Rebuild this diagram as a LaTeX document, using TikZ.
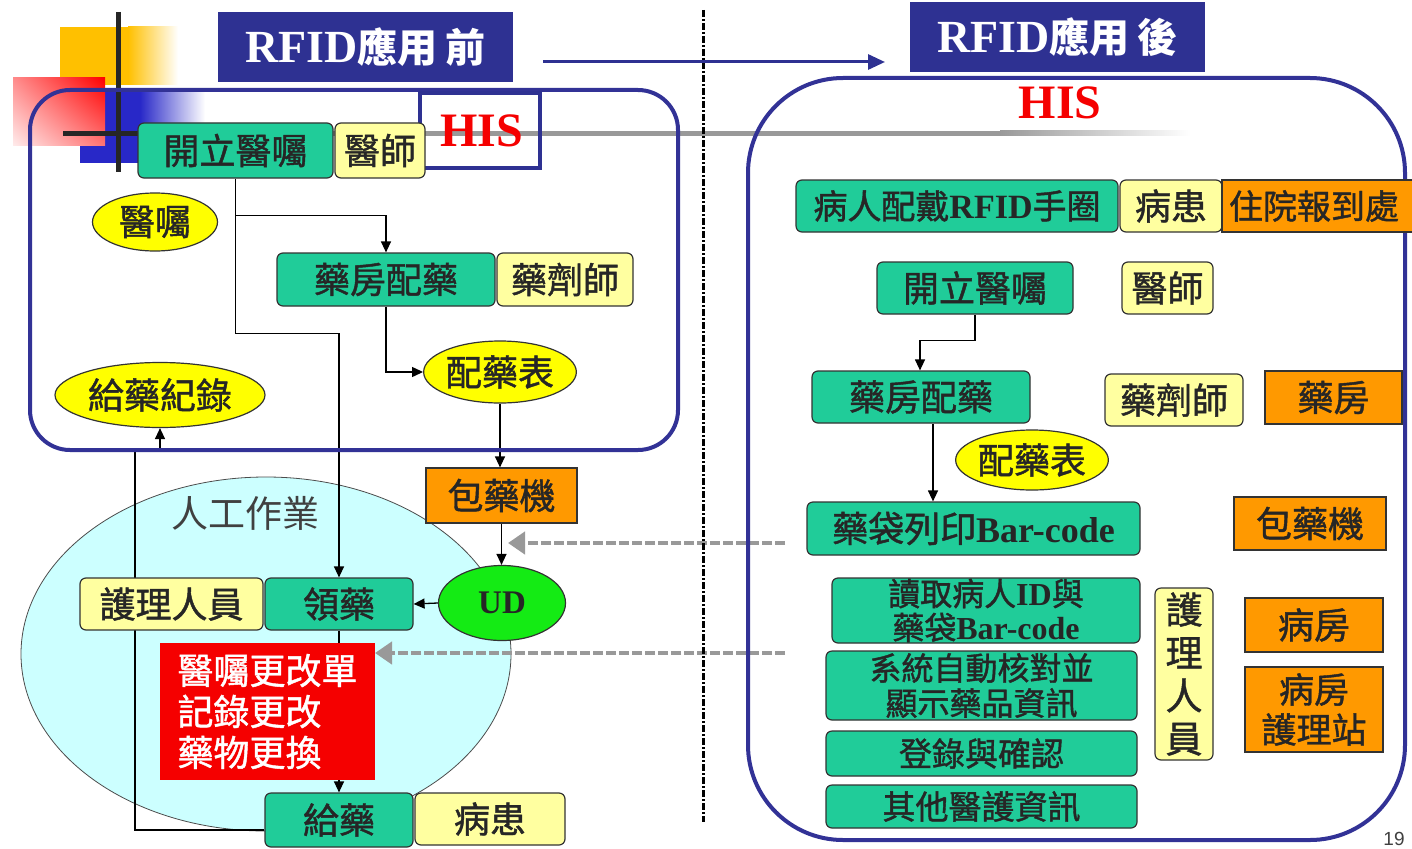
\documentclass[tikz,border=0pt]{standalone}
\usepackage{fontspec}
\setmainfont{Liberation Serif}
\newfontfamily\cjk{Noto Sans CJK TC}[FakeBold=1.2]
\newfontfamily\cjkl{Noto Sans CJK TC}
\newfontfamily\sansf{Liberation Sans}
\usetikzlibrary{arrows.meta,shapes.geometric,shadings}
\definecolor{tblue}{RGB}{46,49,146}
\definecolor{bblue}{RGB}{50,50,150}
\definecolor{tealc}{RGB}{32,204,153}
\definecolor{lyel}{RGB}{255,255,160}
\definecolor{yel}{RGB}{255,255,0}
\definecolor{orng}{RGB}{255,153,0}
\definecolor{cyanc}{RGB}{204,255,255}
\definecolor{udg}{RGB}{20,235,20}
\definecolor{redc}{RGB}{245,0,0}
\definecolor{yelo}{RGB}{255,192,0}
\definecolor{dblue}{RGB}{40,40,200}
\newcommand\latx[1]{{\rmfamily\bfseries #1}}
\pgfdeclarelayer{deco}
\pgfdeclarelayer{conn}
\pgfsetlayers{deco,conn,main}
\tikzset{
 box/.style={draw=black!80, line width=1.2pt, inner sep=0pt, align=center,
   font=\cjk\fontsize{36}{40}\selectfont, text=black!85},
 tbox/.style={box, rounded corners=6pt, fill=tealc},
 ybox/.style={box, rounded corners=6pt, fill=lyel},
 obox/.style={box, fill=orng},
 yell/.style={box, ellipse, fill=yel},
 arr/.style={-{Triangle[length=11pt,width=10pt]}, line width=1.3pt, black},
 garr/.style={-{Triangle[length=17pt,width=22pt]}, line width=4.5pt, black!40, dash pattern=on 10pt off 3pt},
 bigbox/.style={draw=bblue, line width=4pt},
 titlebox/.style={fill=tblue, text=white, inner sep=0pt, minimum width=295, minimum height=70},
 histext/.style={text=redc, font=\rmfamily\bfseries\fontsize{48}{48}\selectfont},
}
\begin{document}
\begin{tikzpicture}[x=1pt,y=-1pt]
\useasboundingbox (0,0) rectangle (1412,848);
\clip (0,0) rectangle (1412,848);
% ---------- decoration ----------
\begin{pgfonlayer}{deco}
 \fill[white] (0,0) rectangle (1412,848);
 \fill[yelo] (60,27) rectangle (128,85);
 \shade[left color=yelo, right color=white] (128,27) rectangle (178,85);
 \fill[dblue] (80,90) rectangle (140,163);
 \shade[left color=dblue, right color=white] (140,90) rectangle (205,163);
 \shade[upper right=red, upper left=red!45, lower left=red!8, lower right=red!55] (13,78) rectangle (105,145);
 \draw[line width=5pt, black!85] (118,12) -- (118,172);
 \draw[line width=5pt, black!85] (63,133) -- (140,133);
 \fill[black!40] (140,130.5) rectangle (1000,135.5);
 \shade[left color=black!40, right color=white] (1000,130.5) rectangle (1190,135.5);
 \node[ellipse, draw=black!70, line width=0.8pt, fill=cyanc, inner sep=0pt,
   minimum width=490, minimum height=354] (manual) at (266,654) {};
 \node[font=\cjkl\fontsize{37}{37}\selectfont, text=black!75] (manualt) at (245,513) {人工作業};
\end{pgfonlayer}

% ---------- big frames and titles ----------
\draw[bigbox, rounded corners=40pt] (30,90) rectangle (678,450);
\draw[bigbox, rounded corners=95pt] (748,78) rectangle (1405,840);
\draw[line width=3pt, black, dash pattern=on 7pt off 2pt on 2pt off 2pt] (703,10) -- (703,822);

\node[titlebox] (titleL) at (365.5,47) {\rmfamily\bfseries\fontsize{46}{46}\selectfont RFID\cjkl\bfseries\fontsize{40}{40}\selectfont 應用\hspace{8pt}前};
\node[titlebox] (titleR) at (1057.5,37) {\rmfamily\bfseries\fontsize{46}{46}\selectfont RFID\cjkl\bfseries\fontsize{40}{40}\selectfont 應用\hspace{8pt}後};
\coordinate (a1) at (543,62);
\coordinate (a2) at (885,62);
\draw[-{Triangle[length=17pt,width=15pt]}, line width=3pt, tblue] (a1) -- (a2);

\node[draw=tblue, line width=4pt, minimum width=120, minimum height=75, inner sep=0pt] (hisL) at (480,130.5) {};
\node[histext] (hisLt) at (482,131) {HIS};
\node[histext] (hisR) at (1060,103) {HIS};

% ---------- left nodes ----------
\node[tbox, minimum width=195, minimum height=55] (openL) at (235.5,150.5) {開立醫囑};
\node[ybox, minimum width=90, minimum height=55] (docL) at (380,150.5) {醫師};
\node[yell, minimum width=125, minimum height=58] (ordL) at (155,222) {醫囑};
\node[tbox, minimum width=218, minimum height=53] (pharmL) at (386,279.5) {藥房配藥};
\node[ybox, minimum width=136, minimum height=53] (pharmistL) at (565,279.5) {藥劑師};
\node[yell, minimum width=150, minimum height=62] (listL) at (500,372) {配藥表};
\node[yell, minimum width=210, minimum height=65] (recL) at (160,395) {給藥紀錄};
\node[obox, minimum width=151, minimum height=55] (packL) at (501.5,495.5) {包藥機};
\node[ybox, minimum width=183, minimum height=52] (nurseL) at (171.5,604) {護理人員};
\node[tbox, minimum width=148, minimum height=52] (takeL) at (339,604) {領藥};
\node[box, ellipse, fill=udg, minimum width=127, minimum height=75,
  font=\rmfamily\bfseries\fontsize{33}{33}\selectfont] (udL) at (502,603) {UD};
\node[box, draw=none, fill=redc, minimum width=215, minimum height=137, align=left, text=white,
  font=\cjk\fontsize{36}{41}\selectfont] (redL) at (267.5,711.5) {醫囑更改單\\記錄更改\\藥物更換};
\node[tbox, minimum width=148, minimum height=54] (giveL) at (339,820) {給藥};
\node[ybox, minimum width=150, minimum height=52] (patL) at (490,819) {病患};

% ---------- right nodes ----------
\node[tbox, minimum width=322, minimum height=52, font=\cjk\fontsize{34}{38}\selectfont] (rfidR) at (957,206) {病人配戴\latx{RFID}手圈};
\node[ybox, minimum width=102, minimum height=52] (patR) at (1171,206) {病患};
\node[obox, minimum width=200, minimum height=52, align=left, text width=186, font=\cjk\fontsize{34}{40}\selectfont] (regR) at (1322,206) {住院報到處};
\node[tbox, minimum width=196, minimum height=52] (openR) at (975,288) {開立醫囑};
\node[ybox, minimum width=91, minimum height=52] (docR) at (1167.5,288) {醫師};
\node[tbox, minimum width=218, minimum height=52] (pharmR) at (921,397) {藥房配藥};
\node[ybox, minimum width=138, minimum height=52] (pharmistR) at (1174,400) {藥劑師};
\node[obox, minimum width=137, minimum height=53] (pharmacyR) at (1333.5,397.5) {藥房};
\node[yell, minimum width=150, minimum height=60] (listR) at (1032,460) {配藥表};
\node[tbox, minimum width=333, minimum height=53] (printR) at (973.5,528.5) {藥袋列印\latx{Bar-code}};
\node[obox, minimum width=152, minimum height=53] (packR) at (1310,523.5) {包藥機};
\node[tbox, minimum width=308, minimum height=65, font=\cjk\fontsize{32}{34}\selectfont] (readR) at (986,610.5) {讀取病人\latx{ID}與\\藥袋\latx{Bar-code}};
\node[tbox, minimum width=311, minimum height=69, font=\cjk\fontsize{32}{35}\selectfont] (sysR) at (981.5,685.5) {系統自動核對並\\顯示藥品資訊};
\node[tbox, minimum width=311, minimum height=45, font=\cjk\fontsize{33}{34}\selectfont] (logR) at (981.5,753.5) {登錄與確認};
\node[tbox, minimum width=311, minimum height=43, font=\cjk\fontsize{33}{34}\selectfont] (otherR) at (981.5,806.5) {其他醫護資訊};
\node[ybox, minimum width=58, minimum height=172, font=\cjk\fontsize{37}{43}\selectfont] (nurseR) at (1184,674) {護\\理\\人\\員};
\node[obox, minimum width=138, minimum height=54] (wardR) at (1314,625) {病房};
\node[obox, minimum width=138, minimum height=85, font=\cjk\fontsize{35}{40}\selectfont] (stationR) at (1314,709.5) {病房\\護理站};
\node[font=\sansf\fontsize{19}{19}\selectfont, text=black!75, anchor=south, inner sep=1pt] (pg) at (1394,847) {19};

% ---------- connectors ----------
\begin{pgfonlayer}{conn}
 \draw[arr] (openL.south) -- ++(0,155) -| (takeL.north);
 \draw[arr] (openL.south) ++(0,37) -| (pharmL.north);
 \draw[arr] (pharmL.south) |- (listL.west);
 \draw[arr] (listL.south) -- (listL.south |- packL.north);
 \draw[arr] (packL.south) -- (packL.south |- udL.north);
 \draw[arr] (udL.west) -- (takeL.east);
 \draw[arr] (takeL.south) -- (giveL.north);
 \draw[arr] ([yshift=-10pt]giveL.west) -| (135,450) -| (recL.south);
 \draw[arr] (openR.south) -- ++(0,26) -| ([xshift=-1pt]pharmR.north);
 \draw[arr] ([xshift=12pt]pharmR.south) -- ([xshift=12pt]pharmR.south |- printR.north);
 \coordinate (g1a) at (785,543);
 \coordinate (g1b) at (508,543);
 \coordinate (g2a) at (785,653);
 \coordinate (g2b) at (375,653);
 \draw[garr] (g1a) -- (g1b);
 \draw[garr] (g2a) -- (g2b);
\end{pgfonlayer}
\end{tikzpicture}
\end{document}
